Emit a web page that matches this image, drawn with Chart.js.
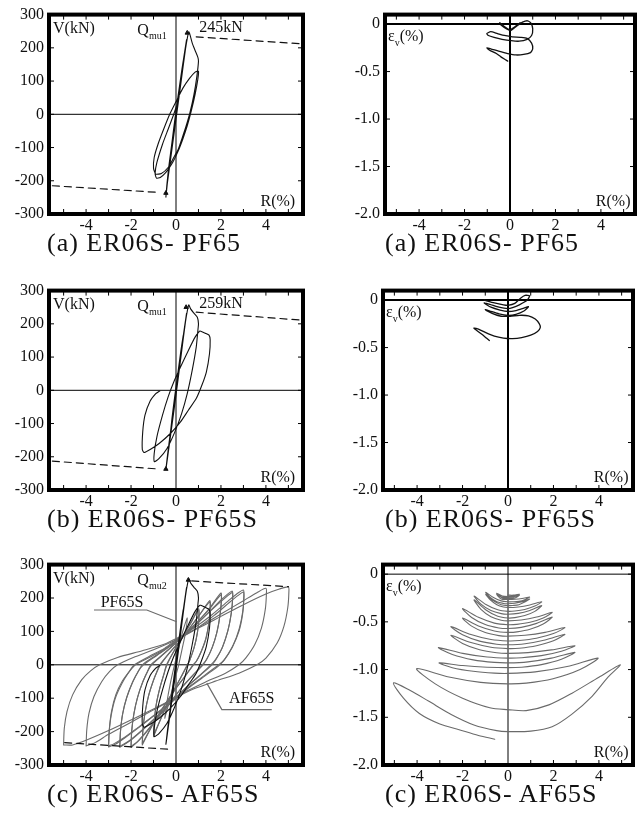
<!DOCTYPE html>
<html><head><meta charset="utf-8">
<script src="https://cdn.jsdelivr.net/npm/chart.js@4.4.0/dist/chart.umd.min.js"></script>
<style>
html,body{margin:0;padding:0;background:#fff;}
body{width:640px;height:821px;position:relative;overflow:hidden;font-family:"Liberation Serif","Times New Roman",serif;}
.pc{position:absolute;width:320px;height:240px;}
.cap{position:absolute;font-size:26px;letter-spacing:1px;color:#111;line-height:26px;white-space:nowrap;}
</style></head><body>
<div class="pc" style="left:0;top:0"><canvas id="c1" width="320" height="240"></canvas></div>
<div class="pc" style="left:320px;top:0"><canvas id="c2" width="320" height="240"></canvas></div>
<div class="pc" style="left:0;top:276px"><canvas id="c3" width="320" height="240"></canvas></div>
<div class="pc" style="left:320px;top:276px"><canvas id="c4" width="320" height="240"></canvas></div>
<div class="pc" style="left:0;top:550px"><canvas id="c5" width="320" height="240"></canvas></div>
<div class="pc" style="left:320px;top:550px"><canvas id="c6" width="320" height="240"></canvas></div>
<div class="cap" style="left:47px;top:230px">(a) ER06S- PF65</div>
<div class="cap" style="left:385px;top:230px">(a) ER06S- PF65</div>
<div class="cap" style="left:47px;top:506px">(b) ER06S- PF65S</div>
<div class="cap" style="left:385px;top:506px">(b) ER06S- PF65S</div>
<div class="cap" style="left:47px;top:781px">(c) ER06S- AF65S</div>
<div class="cap" style="left:385px;top:781px">(c) ER06S- AF65S</div>
<script>
// ---------- tick values / labels ----------
const xTickValues = [-4, -2, 0, 2, 4];
const xTickLabels = ['-4', '-2', '0', '2', '4'];
const xMarkValues = [-5, -4, -3, -2, -1, 1, 2, 3, 4, 5];
const vTickValues = [300, 200, 100, 0, -100, -200, -300];
const vTickLabels = ['300', '200', '100', '0', '-100', '-200', '-300'];
const evTickValues = [0, -0.5, -1.0, -1.5, -2.0];
const evTickLabels = ['0', '-0.5', '-1.0', '-1.5', '-2.0'];

// ---------- (a) ER06S-PF65 : R(%) vs V(kN) ----------
const pf65V = [
[0,0],[0.12,55],[0.25,120],[0.32,160],[0.22,115],[0.05,35],[-0.05,-15],[-0.18,-85],[-0.28,-145],[-0.33,-170],[-0.22,-120],[-0.07,-45],[0.02,5],
[0.2,95],[0.38,185],[0.47,225],[0.4,195],[0.2,105],[0.02,15],[-0.17,-80],[-0.35,-175],[-0.45,-249],[-0.38,-205],[-0.18,-105],[0.0,-15],
[0.2,85],[0.42,195],[0.52,235],[0.57,248],[0.62,240],[0.72,215],[0.85,192],[0.97,172],[1.0,160],[0.93,115],[0.8,60],[0.62,5],[0.45,-35],[0.28,-70],[0.1,-105],[-0.1,-130],[-0.35,-160],[-0.65,-178],[-0.9,-180],[-1.0,-162],[-0.97,-130],[-0.8,-90],[-0.55,-45],[-0.28,0],[0.0,38],[0.3,78],[0.6,108],[0.85,127],[1.0,130],
[0.97,105],[0.85,60],[0.68,10],[0.5,-35],[0.3,-75],[0.1,-110],[-0.15,-145],[-0.45,-175],[-0.7,-190],[-0.87,-192],[-0.93,-178],[-0.85,-145],[-0.6,-90],[-0.35,-45],[-0.1,0],[0.05,30]
];
const pf65DashPos = [[0.9,233],[5.6,212]];
const pf65DashNeg = [[-5.5,-215],[-0.8,-235]];
const pf65Marks = [[0.5,245],[-0.45,-237]];

// ---------- (a) ER06S-PF65 : R(%) vs εv(%) ----------
const pf65Ev = [
[-0.45,0.015],[-0.25,-0.025],[0,-0.06],[0.2,-0.03],[0.45,0.015],[0.2,-0.035],[0,-0.065],[-0.2,-0.04],[-0.4,-0.01],[-0.15,-0.05],[0.05,-0.065],
[0.3,-0.02],[0.55,0.02],[0.77,0.035],[0.92,0.01],[1.0,-0.05],[0.95,-0.12],[0.75,-0.16],[0.4,-0.18],[0.05,-0.175],[-0.35,-0.16],[-0.7,-0.14],[-0.95,-0.12],[-1.02,-0.1],[-0.85,-0.08],[-0.55,-0.1],[-0.25,-0.12],[0.1,-0.135],[0.45,-0.14],[0.75,-0.15],[0.95,-0.2],[1.0,-0.26],[0.9,-0.3],[0.6,-0.32],[0.25,-0.325],[-0.1,-0.31],[-0.5,-0.285],[-0.85,-0.26],[-1.02,-0.25],[-0.9,-0.275],[-0.6,-0.31],[-0.4,-0.345],[-0.2,-0.375],[-0.1,-0.39]
];

// ---------- (b) ER06S-PF65S : R(%) vs V(kN) ----------
const pf65sV = [
[0,0],[0.12,60],[0.25,125],[0.32,165],[0.22,120],[0.05,35],[-0.05,-15],[-0.18,-85],[-0.28,-150],[-0.33,-175],[-0.22,-125],[-0.07,-45],[0.02,5],
[0.2,100],[0.38,190],[0.47,232],[0.4,200],[0.2,105],[0.02,15],[-0.17,-85],[-0.35,-180],[-0.45,-238],[-0.38,-205],[-0.18,-105],[0.0,-15],
[0.2,90],[0.42,205],[0.52,245],[0.57,257],[0.65,245],[0.8,232],[0.95,220],[1.0,200],[0.98,185],[0.9,130],[0.72,60],[0.5,-10],[0.25,-70],[-0.05,-125],[-0.4,-175],[-0.75,-205],[-0.96,-215],[-0.97,-190],[-0.85,-140],[-0.6,-75],[-0.35,-20],[-0.1,25],[0.2,70],[0.55,120],[0.85,160],[1.05,178],[1.1,178],
[1.3,172],[1.47,166],[1.52,152],[1.49,110],[1.35,55],[1.15,15],[0.9,-25],[0.55,-60],[0.2,-95],[-0.25,-130],[-0.75,-160],[-1.15,-178],[-1.42,-187],[-1.5,-178],[-1.48,-125],[-1.38,-75],[-1.15,-32],[-0.9,-10],[-0.75,-3],[-0.72,-2]
];
const pf65sDashPos = [[0.9,235],[5.6,211]];
const pf65sDashNeg = [[-5.5,-213],[-0.75,-237]];
const pf65sMarks = [[0.45,250],[-0.45,-237]];

// ---------- (b) ER06S-PF65S : R(%) vs εv(%) ----------
const pf65sEv = [
[-1.05,0.0],[-0.6,-0.03],[-0.2,-0.05],[0,-0.055],[0.3,-0.035],[0.55,0.02],[0.75,0.05],[0.95,0.045],[0.85,0.0],[0.5,-0.05],[0.2,-0.08],[0,-0.09],[-0.4,-0.075],[-0.8,-0.045],[-1.05,-0.03],[-0.75,-0.075],[-0.35,-0.105],[0,-0.12],[0.35,-0.11],[0.7,-0.085],[0.9,-0.07],[0.7,-0.115],[0.35,-0.15],[0,-0.16],[-0.4,-0.145],[-0.8,-0.115],[-1.0,-0.1],[-0.7,-0.14],[-0.3,-0.17],[0.1,-0.17],[0.5,-0.16],[0.9,-0.165],[1.2,-0.2],[1.38,-0.25],[1.42,-0.29],[1.3,-0.33],[1.0,-0.37],[0.6,-0.395],[0.2,-0.405],[-0.2,-0.4],[-0.6,-0.38],[-1.0,-0.34],[-1.3,-0.305],[-1.5,-0.295],[-1.4,-0.315],[-1.15,-0.36],[-0.95,-0.4],[-0.82,-0.425]
];

// ---------- (c) ER06S-AF65S : R(%) vs V(kN), loops per drift amplitude ----------
const af65sV_05 = [[-0.5,-160],[-0.4,-110],[-0.25,-55],[-0.1,-10],[0.1,45],[0.3,100],[0.5,140],[0.42,95],[0.28,50],[0.12,0],[-0.1,-55],[-0.3,-110],[-0.5,-160]];
const af65sV_10 = [[-1.0,-215],[-0.97,-170],[-0.88,-120],[-0.72,-70],[-0.55,-30],[-0.42,0],[-0.1,40],[0.3,85],[0.7,130],[1.0,168],[1.02,145],[0.96,100],[0.82,55],[0.62,15],[0.52,0],[0.2,-40],[-0.2,-90],[-0.6,-150],[-1.0,-215]];
const af65sV_10b = [[-1.0,-210],[-0.96,-165],[-0.87,-115],[-0.7,-65],[-0.53,-27],[-0.4,0],[-0.08,42],[0.32,88],[0.72,133],[1.0,165],[1.02,140],[0.95,95],[0.8,50],[0.6,12],[0.5,0],[0.18,-42],[-0.22,-93],[-0.62,-153],[-1.0,-210]];
const af65sV_15 = [[-1.5,-240],[-1.47,-195],[-1.38,-145],[-1.23,-95],[-1.02,-50],[-0.85,-20],[-0.72,0],[-0.3,35],[0.1,65],[0.5,100],[1.0,145],[1.5,192],[1.52,170],[1.46,125],[1.33,80],[1.12,40],[0.92,12],[0.78,0],[0.4,-35],[0,-70],[-0.5,-120],[-1.0,-175],[-1.5,-240]];
const af65sV_15b = [[-1.5,-236],[-1.47,-190],[-1.37,-140],[-1.21,-90],[-1.0,-46],[-0.82,-17],[-0.69,0],[-0.27,37],[0.13,68],[0.53,103],[1.03,148],[1.5,188],[1.52,165],[1.45,120],[1.32,75],[1.1,36],[0.9,10],[0.76,0],[0.37,-37],[-0.03,-73],[-0.53,-123],[-1.03,-178],[-1.5,-236]];
const af65sV_20 = [[-2.0,-247],[-1.97,-200],[-1.88,-150],[-1.72,-100],[-1.5,-55],[-1.28,-22],[-1.12,0],[-0.6,30],[-0.1,60],[0.3,85],[0.9,125],[1.5,170],[2.0,215],[2.02,195],[1.96,150],[1.83,100],[1.63,55],[1.38,18],[1.2,0],[0.75,-32],[0.3,-65],[-0.1,-100],[-0.7,-150],[-1.3,-200],[-1.7,-230],[-2.0,-247]];
const af65sV_20b = [[-2.0,-244],[-1.97,-196],[-1.87,-145],[-1.7,-95],[-1.47,-50],[-1.25,-18],[-1.08,0],[-0.55,32],[-0.05,62],[0.35,88],[0.95,128],[1.55,172],[2.0,210],[2.02,190],[1.95,145],[1.81,95],[1.6,50],[1.35,15],[1.17,0],[0.7,-35],[0.25,-68],[-0.15,-103],[-0.75,-153],[-1.35,-202],[-1.75,-232],[-2.0,-244]];
const af65sV_25 = [[-2.5,-247],[-2.47,-200],[-2.38,-150],[-2.2,-100],[-1.95,-55],[-1.7,-22],[-1.5,0],[-0.9,28],[-0.3,55],[0.2,82],[0.8,115],[1.5,160],[2.1,200],[2.5,221],[2.52,200],[2.46,155],[2.32,105],[2.08,55],[1.8,18],[1.6,0],[1.1,-30],[0.5,-65],[0,-100],[-0.7,-145],[-1.4,-190],[-2.0,-225],[-2.5,-247]];
const af65sV_25b = [[-2.5,-244],[-2.47,-198],[-2.37,-145],[-2.18,-95],[-1.92,-50],[-1.66,-18],[-1.45,0],[-0.85,28],[-0.25,56],[0.25,82],[0.85,117],[1.55,162],[2.15,198],[2.5,216],[2.52,196],[2.45,150],[2.3,100],[2.05,50],[1.75,15],[1.55,0],[1.05,-32],[0.45,-68],[-0.05,-102],[-0.75,-148],[-1.45,-192],[-2.05,-226],[-2.5,-244]];
const af65sV_30 = [[-3.0,-246],[-2.97,-200],[-2.88,-150],[-2.7,-100],[-2.4,-55],[-2.1,-22],[-1.85,0],[-1.2,25],[-0.5,50],[0.1,80],[0.8,110],[1.6,150],[2.3,190],[2.7,212],[3.0,224],[3.02,205],[2.97,160],[2.82,110],[2.55,60],[2.2,20],[1.95,0],[1.4,-28],[0.7,-62],[0,-100],[-0.8,-142],[-1.6,-185],[-2.3,-220],[-2.7,-238],[-3.0,-246]];
const af65sV_30b = [[-3.0,-243],[-2.97,-195],[-2.87,-140],[-2.68,-90],[-2.38,-48],[-2.05,-18],[-1.8,0],[-1.1,25],[-0.4,52],[0.15,78],[0.9,108],[1.7,148],[2.4,188],[2.75,207],[3.0,218],[3.02,198],[2.96,150],[2.8,100],[2.5,52],[2.15,15],[1.9,0],[1.3,-30],[0.6,-65],[0,-98],[-0.85,-145],[-1.7,-188],[-2.35,-220],[-2.75,-236],[-3.0,-243]];
const af65sV_40 = [[-4.0,-243],[-3.97,-195],[-3.87,-145],[-3.65,-95],[-3.3,-50],[-2.95,-20],[-2.6,0],[-1.9,22],[-1.0,45],[-0.2,68],[0.3,85],[1.0,112],[2.0,152],[3.0,192],[3.6,216],[4.0,229],[4.02,210],[3.97,165],[3.8,110],[3.5,60],[3.1,20],[2.8,0],[2.2,-25],[1.3,-52],[0.5,-78],[0,-98],[-1.0,-135],[-2.0,-172],[-3.0,-208],[-3.6,-233],[-4.0,-243]];
const af65sV_50 = [[-5.0,-238],[-4.97,-190],[-4.85,-140],[-4.6,-90],[-4.2,-45],[-3.8,-18],[-3.4,0],[-2.6,22],[-1.5,42],[-0.5,62],[0.1,82],[1.0,110],[2.0,145],[3.0,180],[4.0,212],[4.6,227],[5.0,233],[5.02,215],[4.97,170],[4.8,115],[4.5,65],[4.0,20],[3.6,0],[2.8,-25],[1.8,-48],[0.8,-72],[0,-98],[-1.0,-132],[-2.0,-165],[-3.0,-197],[-4.0,-226],[-4.6,-240],[-5.0,-240]];
const af65sDashPos = [[0.7,251],[5.0,234]];
const af65sDashNeg = [[-4.95,-233],[-0.3,-253]];
const af65sMarks = [[0.55,254]];

// ---------- (c) ER06S-AF65S : R(%) vs εv(%) ----------
const af65sEv = [
[0,-0.22],
[0.25,-0.22],[0.5,-0.21],[0.3,-0.23],[0,-0.235],
[-0.25,-0.23],[-0.5,-0.2],[-0.3,-0.24],[0,-0.245],
[0.25,-0.24],[0.5,-0.22],[0.3,-0.25],[0,-0.255],
[-0.25,-0.25],[-0.5,-0.21],[-0.3,-0.26],[0,-0.265],
[0.3,-0.263],[0.62,-0.255],[0.95,-0.24],[0.76,-0.265],[0.48,-0.285],[0.2,-0.29],[0,-0.29],
[-0.3,-0.28],[-0.64,-0.245],[-0.98,-0.19],[-0.78,-0.245],[-0.49,-0.29],[-0.2,-0.307],[0,-0.31],
[0.3,-0.305],[0.62,-0.29],[0.95,-0.26],[0.76,-0.29],[0.48,-0.32],[0.2,-0.328],[0,-0.33],
[-0.3,-0.32],[-0.64,-0.28],[-0.98,-0.21],[-0.78,-0.27],[-0.49,-0.32],[-0.2,-0.345],[0,-0.35],
[0.45,-0.344],[0.96,-0.323],[1.48,-0.29],[1.18,-0.335],[0.74,-0.37],[0.3,-0.387],[0,-0.39],
[-0.45,-0.374],[-0.97,-0.318],[-1.49,-0.23],[-1.19,-0.315],[-0.75,-0.382],[-0.3,-0.414],[0,-0.42],
[0.45,-0.411],[0.96,-0.38],[1.48,-0.33],[1.18,-0.39],[0.74,-0.434],[0.3,-0.456],[0,-0.46],
[-0.45,-0.441],[-0.97,-0.375],[-1.49,-0.27],[-1.19,-0.369],[-0.75,-0.446],[-0.3,-0.483],[0,-0.49],
[0.58,-0.481],[1.26,-0.45],[1.94,-0.40],[1.55,-0.459],[0.97,-0.504],[0.39,-0.526],[0,-0.53],
[-0.6,-0.513],[-1.3,-0.453],[-2.0,-0.36],[-1.6,-0.454],[-1.0,-0.528],[-0.4,-0.564],[0,-0.57],
[0.58,-0.558],[1.26,-0.516],[1.94,-0.45],[1.55,-0.522],[0.97,-0.578],[0.39,-0.605],[0,-0.61],
[-0.6,-0.595],[-1.3,-0.543],[-2.0,-0.46],[-1.6,-0.545],[-1.0,-0.612],[-0.4,-0.644],[0,-0.65],
[0.75,-0.641],[1.63,-0.61],[2.5,-0.56],[2.0,-0.623],[1.25,-0.672],[0.5,-0.696],[0,-0.70],
[-0.75,-0.685],[-1.63,-0.633],[-2.51,-0.55],[-2.0,-0.636],[-1.25,-0.702],[-0.5,-0.734],[0,-0.74],
[0.75,-0.729],[1.63,-0.69],[2.5,-0.63],[2.0,-0.698],[1.25,-0.75],[0.5,-0.776],[0,-0.78],
[-0.75,-0.766],[-1.63,-0.717],[-2.51,-0.64],[-2.0,-0.726],[-1.25,-0.792],[-0.5,-0.824],[0,-0.83],
[0.88,-0.822],[1.91,-0.794],[2.94,-0.75],[2.35,-0.808],[1.47,-0.854],[0.6,-0.876],[0,-0.88],
[-0.92,-0.869],[-1.99,-0.83],[-3.06,-0.77],[-2.45,-0.842],[-1.53,-0.898],[-0.6,-0.925],[0,-0.93],
[0.88,-0.919],[1.91,-0.88],[2.94,-0.82],[2.35,-0.892],[1.47,-0.948],[0.6,-0.975],[0,-0.98],
[-0.92,-0.975],[-1.99,-0.958],[-3.03,-0.93],[-2.45,-0.98],[-1.53,-1.018],[-0.6,-1.037],[0,-1.04],
[1.2,-1.024],[2.6,-0.968],[3.96,-0.88],[3.17,-1.0],[1.98,-1.096],[0.8,-1.142],[0,-1.15],
[-1.2,-1.134],[-2.6,-1.078],[-4.02,-0.99],[-3.2,-1.15],[-2.0,-1.3],[-0.8,-1.4],[0,-1.42],
[0.8,-1.43],[1.8,-1.37],[2.8,-1.25],[4.0,-1.08],[4.94,-0.95],[4.4,-1.08],[3.7,-1.28],[2.8,-1.47],[1.94,-1.6],[1.0,-1.645],[0,-1.65],
[-0.5,-1.64],[-1.5,-1.58],[-2.5,-1.47],[-3.5,-1.33],[-4.3,-1.22],[-5.04,-1.14],[-4.6,-1.3],[-3.9,-1.46],[-3.0,-1.57],[-2.15,-1.63],[-1.3,-1.69],[-0.58,-1.73]
];

// ---------- helpers ----------
const FONT = '"Liberation Serif","Times New Roman",serif';
const INK = '#111';
const GRAY = '#6a6a6a';
const xy = a => a.map(p => ({x: p[0], y: p[1]}));

function lineDs(arr, color, width, dash, tension) {
  return {data: xy(arr), showLine: true, borderColor: color, borderWidth: width, borderDash: dash || [],
          pointRadius: 0, fill: false, tension: tension || 0, borderJoinStyle: 'round', borderCapStyle: 'round'};
}
function markDs(arr) {
  return {data: xy(arr), showLine: false, pointStyle: 'triangle', pointRadius: 2.5,
          backgroundColor: INK, borderColor: INK, borderWidth: 1};
}

const deco = {
  id: 'deco',
  beforeDatasetsDraw(chart, args, o) {
    const {ctx, chartArea: a, scales: {x, y}} = chart;
    ctx.save();
    ctx.strokeStyle = '#000';
    ctx.lineWidth = o.zeroWidth;
    const x0 = x.getPixelForValue(0), y0 = y.getPixelForValue(0);
    ctx.beginPath();
    ctx.moveTo(x0, a.top); ctx.lineTo(x0, a.bottom);
    ctx.moveTo(a.left, y0); ctx.lineTo(a.right, y0);
    ctx.stroke();
    ctx.restore();
  },
  afterDraw(chart, args, o) {
    const {ctx, chartArea: a, scales: {x, y}} = chart;
    ctx.save();
    ctx.strokeStyle = '#000';
    ctx.lineWidth = 1;
    ctx.beginPath();
    o.xMarks.forEach(v => { const p = x.getPixelForValue(v);
      ctx.moveTo(p, a.bottom); ctx.lineTo(p, a.bottom - 5);
      ctx.moveTo(p, a.top); ctx.lineTo(p, a.top + 5); });
    o.yMarks.forEach(v => { const p = y.getPixelForValue(v);
      ctx.moveTo(a.left, p); ctx.lineTo(a.left + 5, p);
      ctx.moveTo(a.right, p); ctx.lineTo(a.right - 5, p); });
    ctx.stroke();
    ctx.lineWidth = 4;
    ctx.strokeRect(a.left, a.top, a.right - a.left, a.bottom - a.top);
    (o.lines || []).forEach(l => {
      ctx.strokeStyle = l.color; ctx.lineWidth = l.width || 1;
      ctx.beginPath();
      l.pts.forEach((p, i) => { const px = x.getPixelForValue(p[0]), py = y.getPixelForValue(p[1]);
        if (i === 0) ctx.moveTo(px, py); else ctx.lineTo(px, py); });
      ctx.stroke();
    });
    ctx.fillStyle = INK;
    ctx.textBaseline = 'middle';
    (o.notes || []).forEach(n => {
      let w = 0;
      n.segs.forEach(s => { ctx.font = s[1] + 'px ' + FONT; w += ctx.measureText(s[0]).width; });
      let px = x.getPixelForValue(n.x);
      const py = y.getPixelForValue(n.y);
      if (n.align === 'right') px -= w; else if (n.align === 'center') px -= w / 2;
      ctx.textAlign = 'left';
      n.segs.forEach(s => { ctx.font = s[1] + 'px ' + FONT; ctx.fillText(s[0], px, py + (s[2] || 0)); px += ctx.measureText(s[0]).width; });
    });
    ctx.restore();
  }
};

function makePanel(id, p) {
  new Chart(document.getElementById(id), {
    type: 'scatter',
    data: {datasets: p.datasets},
    options: {
      responsive: false, animation: false, devicePixelRatio: 1,
      layout: {padding: {top: p.padTop, right: p.padRight, left: 0, bottom: 0}},
      plugins: {legend: {display: false}, tooltip: {enabled: false}, deco: p.deco},
      scales: {
        x: {type: 'linear', min: p.xMin, max: p.xMax,
            grid: {display: false, drawTicks: false}, border: {display: false},
            afterBuildTicks: s => { s.ticks = xTickValues.map(v => ({value: v})); },
            afterFit: s => { s.height = p.xH; },
            ticks: {autoSkip: false, maxRotation: 0, padding: 2, color: INK,
                    font: {family: FONT, size: 16},
                    callback: v => xTickLabels[xTickValues.indexOf(v)]}},
        y: {type: 'linear', min: p.yMin, max: p.yMax,
            grid: {display: false, drawTicks: false}, border: {display: false},
            afterBuildTicks: s => { s.ticks = p.yVals.map(v => ({value: v})); },
            afterFit: s => { s.width = p.yW; },
            ticks: {autoSkip: false, padding: 5, color: INK,
                    font: {family: FONT, size: 16},
                    callback: v => p.yLabs[p.yVals.indexOf(v)]}}
      }
    },
    plugins: [deco]
  });
}

const vNotes = (peakText, sub) => {
  const n = [
    {x: -5.47, y: 258, align: 'left', segs: [['V(kN)', 16]]},
    {x: -1.72, y: 252, align: 'left', segs: [['Q', 16], [sub, 10, 6]]},
    {x: 5.3, y: -264, align: 'right', segs: [['R(%)', 16]]}
  ];
  if (peakText) n.push({x: 1.03, y: 259, align: 'left', segs: [[peakText, 16]]});
  return n;
};
const evNotes = () => [
  {x: -5.37, y: -0.135, align: 'left', segs: [['ε', 16], ['v', 10, 6], ['(%)', 16]]},
  {x: 5.3, y: -1.87, align: 'right', segs: [['R(%)', 16]]}
];

const leftBase = {xMin: -5.65, xMax: 5.65, yMin: -300, yMax: 300, yVals: vTickValues, yLabs: vTickLabels, yW: 49, padRight: 17};
const rightBase = {xMin: -5.5, xMax: 5.5, yMin: -2.0, yMax: 0.1, yVals: evTickValues, yLabs: evTickLabels, padRight: 7, yW: 63};

makePanel('c1', Object.assign({}, leftBase, {padTop: 14, xH: 26,
  datasets: [lineDs(pf65V, INK, 1.1, null, 0.2), lineDs(pf65DashPos, INK, 1.2, [7, 5]), lineDs(pf65DashNeg, INK, 1.2, [7, 5]), markDs(pf65Marks)],
  deco: {zeroWidth: 1, xMarks: xMarkValues, yMarks: vTickValues, notes: vNotes('245kN', 'mu1')}}));

makePanel('c2', Object.assign({}, rightBase, {padTop: 14, xH: 26, yW: 65, padRight: 5,
  datasets: [lineDs(pf65Ev, INK, 1.3, null, 0.2)],
  deco: {zeroWidth: 2, xMarks: xMarkValues, yMarks: evTickValues, notes: evNotes()}}));

makePanel('c3', Object.assign({}, leftBase, {padTop: 14, xH: 26,
  datasets: [lineDs(pf65sV, INK, 1.1, null, 0.2), lineDs(pf65sDashPos, INK, 1.2, [7, 5]), lineDs(pf65sDashNeg, INK, 1.2, [7, 5]), markDs(pf65sMarks)],
  deco: {zeroWidth: 1, xMarks: xMarkValues, yMarks: vTickValues, notes: vNotes('259kN', 'mu1')}}));

makePanel('c4', Object.assign({}, rightBase, {padTop: 14, xH: 26,
  datasets: [lineDs(pf65sEv, INK, 1.3, null, 0.2)],
  deco: {zeroWidth: 2, xMarks: xMarkValues, yMarks: evTickValues, notes: evNotes()}}));

const gl = arr => lineDs(arr, GRAY, 1.1, null, 0.25);
makePanel('c5', Object.assign({}, leftBase, {padTop: 14, xH: 25,
  datasets: [lineDs(pf65sV, INK, 1.1, null, 0.2), lineDs(af65sDashPos, INK, 1.2, [7, 5]), lineDs(af65sDashNeg, INK, 1.2, [7, 5]), markDs(af65sMarks),
             gl(af65sV_05), gl(af65sV_10), gl(af65sV_10b), gl(af65sV_15), gl(af65sV_15b), gl(af65sV_20), gl(af65sV_20b),
             gl(af65sV_25), gl(af65sV_25b), gl(af65sV_30), gl(af65sV_30b), gl(af65sV_40), gl(af65sV_50)],
  deco: {zeroWidth: 1, xMarks: xMarkValues, yMarks: vTickValues,
         notes: vNotes(null, 'mu2').concat([
           {x: -2.4, y: 187, align: 'center', segs: [['PF65S', 16]]},
           {x: 3.37, y: -101, align: 'center', segs: [['AF65S', 16]]}]),
         lines: [
           {color: GRAY, width: 1.2, pts: [[-3.65, 164], [-1.3, 164], [0.03, 129]]},
           {color: GRAY, width: 1.2, pts: [[4.26, -134], [2.04, -134], [1.37, -55]]}]}}));

makePanel('c6', Object.assign({}, rightBase, {padTop: 14, xH: 25,
  datasets: [lineDs(af65sEv, GRAY, 1.1, null, 0.3)],
  deco: {zeroWidth: 1, xMarks: xMarkValues, yMarks: evTickValues, notes: evNotes()}}));
</script>
</body></html>
